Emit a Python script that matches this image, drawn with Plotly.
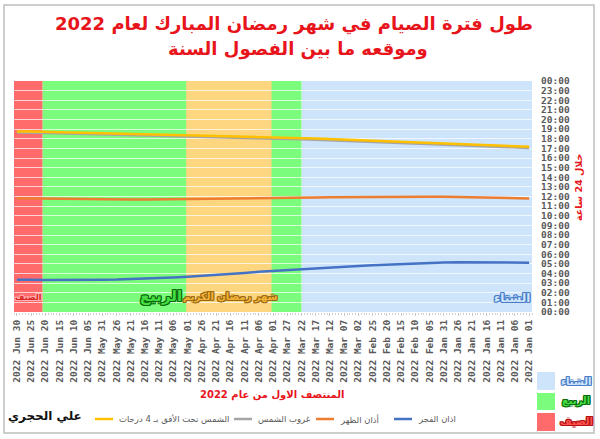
import plotly.graph_objects as go
import pandas as pd

# ---------------- data ----------------
dates = ["2022-01-01", "2022-01-06", "2022-01-11", "2022-01-16", "2022-01-21", "2022-01-26",
         "2022-01-31", "2022-02-05", "2022-02-10", "2022-02-15", "2022-02-20", "2022-02-25",
         "2022-03-02", "2022-03-07", "2022-03-12", "2022-03-17", "2022-03-22", "2022-03-27",
         "2022-04-01", "2022-04-06", "2022-04-11", "2022-04-16", "2022-04-21", "2022-04-26",
         "2022-05-01", "2022-05-06", "2022-05-11", "2022-05-16", "2022-05-21", "2022-05-26",
         "2022-05-31", "2022-06-05", "2022-06-10", "2022-06-15", "2022-06-20", "2022-06-25",
         "2022-06-30"]

# hours of the day (decimal)
fajr = [5.12, 5.14, 5.16, 5.17, 5.17, 5.16, 5.13, 5.09, 5.04, 4.99, 4.92, 4.85, 4.77,
        4.69, 4.61, 4.54, 4.47, 4.38, 4.29, 4.18, 4.06, 3.95, 3.85, 3.76, 3.67, 3.59,
        3.52, 3.46, 3.42, 3.38, 3.36, 3.34, 3.33, 3.32, 3.33, 3.34, 3.36]
dhuhr = [11.80, 11.84, 11.88, 11.91, 11.93, 11.96, 11.97, 11.98, 11.98, 11.98, 11.98, 11.97,
         11.95, 11.93, 11.91, 11.89, 11.87, 11.84, 11.82, 11.79, 11.77, 11.75, 11.73, 11.71,
         11.70, 11.69, 11.69, 11.69, 11.69, 11.70, 11.71, 11.72, 11.74, 11.75, 11.77, 11.79,
         11.81]
sunset = [17.05, 17.11, 17.18, 17.24, 17.31, 17.37, 17.43, 17.49, 17.55, 17.61, 17.66, 17.71,
          17.76, 17.81, 17.85, 17.90, 17.94, 17.98, 18.02, 18.06, 18.11, 18.15, 18.19, 18.23,
          18.27, 18.31, 18.35, 18.39, 18.43, 18.47, 18.50, 18.53, 18.56, 18.59, 18.61, 18.63,
          18.64]
sun4 = [17.17, 17.23, 17.30, 17.36, 17.43, 17.49, 17.55, 17.61, 17.67, 17.73, 17.78, 17.83,
        17.88, 17.93, 17.97, 18.02, 18.06, 18.10, 18.14, 18.18, 18.23, 18.27, 18.31, 18.35,
        18.39, 18.43, 18.47, 18.51, 18.55, 18.59, 18.62, 18.65, 18.68, 18.71, 18.73, 18.75,
        18.76]

series_names = ["الشمس تحت الأفق بـ 4 درجات", "غروب الشمس", "أذان الظهر", "اذان الفجر"]
series_colors = ["#FFC000", "#A5A5A5", "#ED7D31", "#4472C4"]

tick_labels = [pd.Timestamp(d).strftime("%Y %b %d") for d in dates]
hour_vals = list(range(0, 25))
hour_labels = ["%02d:00" % (h % 24) for h in hour_vals]

seasons = {"winter": ("2021-12-30", "2022-03-22"), "spring": ("2022-03-22", "2022-06-21"),
           "ramadan": ("2022-04-01 12:00", "2022-05-01 12:00"), "summer": ("2022-06-21", "2022-07-02")}
season_colors = {"winter": "#CDE4FA", "spring": "#7CFC7C", "ramadan": "#FFD680", "summer": "#FF6B6B"}

# ---------------- layout helpers ----------------
W, H = 600, 439
L, R, T, B = 14, 532, 81, 312


def px(x):
    return (x - L) / (R - L)


def py(y):
    return (B - y) / (B - T)


fig = go.Figure()
vals = {"الشمس تحت الأفق بـ 4 درجات": sun4, "غروب الشمس": sunset, "أذان الظهر": dhuhr, "اذان الفجر": fajr}
draw_order = [1, 0, 2, 3]
for i in draw_order:
    name = series_names[i]
    fig.add_trace(go.Scatter(x=dates, y=vals[name], mode="lines", name=name,
                             line=dict(color=series_colors[i], width=2.5),
                             showlegend=False, hoverinfo="skip"))

shapes = []
for key in ["winter", "spring", "ramadan", "summer"]:
    x0, x1 = seasons[key]
    shapes.append(dict(type="rect", xref="x", yref="paper", x0=x0, x1=x1, y0=0, y1=1,
                       fillcolor=season_colors[key], line=dict(width=0), layer="below"))
# outer frame
shapes.append(dict(type="rect", xref="paper", yref="paper", x0=px(4), x1=px(594), y0=py(433), y1=py(5),
                   line=dict(color="#BFBFBF", width=1.5), fillcolor="rgba(0,0,0,0)", layer="above"))
# season legend squares
sq = [("winter", 372, 390), ("spring", 393, 410), ("summer", 413, 431)]
for key, y0, y1 in sq:
    shapes.append(dict(type="rect", xref="paper", yref="paper", x0=px(537), x1=px(555), y0=py(y1), y1=py(y0),
                       fillcolor=season_colors[key], line=dict(width=0)))

AR = "DejaVu Sans"

# series legend (line sample + label), left-to-right
legend_pos = [(95, 117), (234, 256), (316, 338), (394, 416)]
LEG_Y = 419
ann = []
for i, (lx, tx) in enumerate(legend_pos):
    shapes.append(dict(type="line", xref="paper", yref="paper", x0=px(lx), x1=px(lx + 18),
                       y0=py(LEG_Y), y1=py(LEG_Y), line=dict(color=series_colors[i], width=2.5)))
    ann.append(dict(text=series_names[i], x=px(tx), y=py(LEG_Y), xanchor="left", yanchor="middle",
                    font=dict(family=AR, size=8.5, color="#595959")))


def outline(c, w=1):
    return ", ".join("%dpx %dpx 0 %s" % (a, b, c) for a in (-w, 0, w) for b in (-w, 0, w) if (a, b) != (0, 0))


def center(d):
    d.setdefault("xanchor", "center")
    d.setdefault("yanchor", "middle")
    return d


ann.append(center(dict(text="طول فترة الصيام في شهر رمضان المبارك لعام 2022", x=px(294), y=py(24),
                       font=dict(family=AR, size=18, color="#E8141B", weight="bold"))))
ann.append(center(dict(text="وموقعه ما بين الفصول السنة", x=px(298), y=py(49),
                       font=dict(family=AR, size=18, color="#E8141B", weight="bold"))))
ann.append(center(dict(text="المنتصف الاول من عام 2022", x=px(272), y=py(395),
                       font=dict(family=AR, size=10, color="#E8141B", weight="bold"))))
ann.append(center(dict(text="خلال 24 ساعة", x=px(579), y=py(188), textangle=-90,
                       font=dict(family=AR, size=9.5, color="#E8141B", weight="bold"))))
# labels inside bands
ann.append(center(dict(text="الصيف", x=px(28), y=py(297),
                       font=dict(family=AR, size=8, color="#E02020", weight="bold", shadow=outline("#FFB0B0")))))
ann.append(center(dict(text="الربيع", x=px(161), y=py(296),
                       font=dict(family=AR, size=15, color="#44DD44", weight="bold", shadow=outline("#0A6A0A")))))
ann.append(center(dict(text="شهر رمضان الكريم", x=px(230), y=py(297),
                       font=dict(family=AR, size=10, color="#F2B43A", weight="bold", shadow=outline("#9A6A10")))))
ann.append(center(dict(text="الشتاء", x=px(512), y=py(298),
                       font=dict(family=AR, size=12, color="#CFE6FB", weight="bold", shadow=outline("#4A7CC8")))))
# season legend labels
ann.append(center(dict(text="الشتاء", x=px(576), y=py(381),
                       font=dict(family=AR, size=10, color="#CFE6FB", weight="bold", shadow=outline("#4A7CC8")))))
ann.append(center(dict(text="الربيع", x=px(576), y=py(401),
                       font=dict(family=AR, size=10, color="#44DD44", weight="bold", shadow=outline("#0A6A0A")))))
ann.append(center(dict(text="الصيف", x=px(576), y=py(421),
                       font=dict(family=AR, size=10, color="#FF5050", weight="bold", shadow=outline("#B01010")))))
# logo
ann.append(center(dict(text="علي الحجري", x=px(45), y=py(416),
                       font=dict(family=AR, size=12, color="#111111", weight="bold"))))
for a in ann:
    a.update(xref="paper", yref="paper", showarrow=False)

fig.update_layout(
    width=W, height=H,
    margin=dict(l=L, r=W - R, t=T, b=H - B),
    paper_bgcolor="white", plot_bgcolor="white",
    shapes=shapes, annotations=ann,
    showlegend=False,
    xaxis=dict(type="date", range=["2022-07-01", "2021-12-31"], tickvals=dates, ticktext=tick_labels,
               tickangle=-90, tickfont=dict(family="DejaVu Sans Mono", size=9.5, color="#595959", weight="bold"),
               showgrid=False, zeroline=False, showline=False,
               ticks="outside", ticklen=3, tickcolor="#C8C8C8",
               minor=dict(dtick=86400000, ticks="outside", ticklen=2, tickcolor="#D0D0D0")),
    yaxis=dict(side="right", range=[0, 24], tickvals=hour_vals, ticktext=hour_labels,
               tickfont=dict(family="DejaVu Sans Mono", size=9.5, color="#595959", weight="bold"),
               showgrid=True, gridcolor="rgba(255,255,255,0.7)", gridwidth=1, zeroline=False,
               showline=False, ticklabelstandoff=8),
)

fig.write_html("out.html")
